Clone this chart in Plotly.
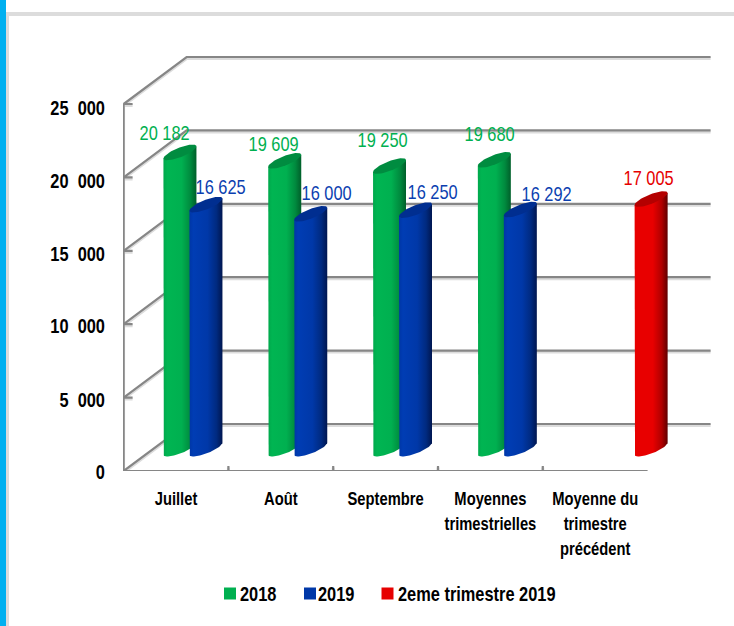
import numpy as np
import plotly.graph_objects as go

# ---- data ----
categories = ["Juillet", "Août", "Septembre", "Moyennes<br>trimestrielles", "Moyenne du<br>trimestre<br>précédent"]
values_2018 = [20182, 19609, 19250, 19680, None]
values_2019 = [16625, 16000, 16250, 16292, None]
values_t2 = [None, None, None, None, 17005]
series_names = ["2018", "2019", "2eme trimestre 2019"]
y_ticks = [0, 5000, 10000, 15000, 20000, 25000]
y_tick_labels = ["0", "5\u00a0\u00a0000", "10\u00a0\u00a0000", "15\u00a0\u00a0000", "20\u00a0\u00a0000", "25\u00a0\u00a0000"]

# ---- geometry (screen scale of the simulated 3-D view) ----
W, H = 734, 626
L, R, T, B = 123, 715, 50, 471
PX_X = 104.8           # px per category
PX_Y = 367 / 25000     # px per value unit
X0 = 176               # px of the first category
xr = [(L - X0) / PX_X, (R - X0) / PX_X]
yr = [0, (B - T) / PX_Y]
DX, DY = 63 / PX_X, 47 / PX_Y      # full depth of the box, data units
BAR_DEPTH = 0.475
SERIES_STEP = 26 / PX_X
A, BB, SH = 16.5 / PX_X, 5 / PX_Y, 6 / PX_Y

fig = go.Figure()

# walls
left, right_end = -0.5, 4.5
wx, wy = [], []
for v in y_ticks:
    wx += [left + DX / 7, left, left + DX, right_end + DX, None]
    wy += [v, v, v + DY, v + DY, None]
wx += [left, left, None, left, right_end, None]
wy += [0, 25000, None, 0, 0, None]
for k in range(1, 5):
    wx += [left + k, left + k, None]
    wy += [0, 5 / PX_Y, None]
common = dict(mode="lines", showlegend=False, hoverinfo="skip", cliponaxis=False)
fig.add_trace(go.Scatter(x=wx, y=[None if a is None else a - 1.5 / PX_Y for a in wy],
                         line=dict(color="#dcdcdc", width=3), **common))
fig.add_trace(go.Scatter(x=wx, y=wy, line=dict(color="#868686", width=2.2), **common))

styles = [
    dict(scale=[[0, "#00A84C"], [0.12, "#00B552"], [0.55, "#00B050"], [0.82, "#008A3E"], [1, "#005F2A"]],
         cap="#008C40", key="#00B050", text="#00B050"),
    dict(scale=[[0, "#0036A6"], [0.12, "#003DB4"], [0.55, "#0038A8"], [0.82, "#002A80"], [1, "#001650"]],
         cap="#002E90", key="#0038A8", text="#0B3FB0"),
    dict(scale=[[0, "#E80000"], [0.55, "#E80000"], [0.82, "#B00000"], [1, "#600000"]],
         cap="#B40000", key="#E60000", text="#E60000"),
]
series = [values_2018, values_2019, values_t2]
t_low = np.linspace(np.pi, 0, 30)
t_all = np.linspace(0, 2 * np.pi, 60)
for s, vals in enumerate(series):
    st = styles[s]
    for i, v in enumerate(vals):
        if v is None:
            continue
        cx = i + (s - 1) * SERIES_STEP + BAR_DEPTH * DX
        base = BAR_DEPTH * DY
        xs = cx + A * np.cos(t_low)
        ys = base + SH * np.cos(t_low) - BB * np.sin(t_low)
        top_y = v + base
        bx = np.concatenate([[cx - A], xs, [cx + A]])
        by = np.concatenate([[top_y - SH], ys, [top_y + SH]])
        name = f"{series_names[s]} - {categories[i].replace('<br>', ' ')}"
        fig.add_trace(go.Scatter(x=bx, y=by, mode="lines", line=dict(width=0), fill="toself",
                                 fillgradient=dict(type="horizontal", colorscale=st["scale"]),
                                 showlegend=False, name=name, hoverinfo="skip"))
        fig.add_trace(go.Scatter(x=cx + A * np.cos(t_all),
                                 y=top_y + SH * np.cos(t_all) + BB * np.sin(t_all),
                                 mode="lines", line=dict(width=0), fill="toself", fillcolor=st["cap"],
                                 showlegend=False, hoverinfo="skip"))

# legend keys
for s, nm in enumerate(series_names):
    fig.add_trace(go.Scatter(x=[None], y=[None], mode="markers", name=nm,
                             marker=dict(symbol="square", size=12, color=styles[s]["key"])))

# data labels
label_shift = {
    0: [(-15, 19), (-11, 17), (-7, 26), (-5, 26), None],
    1: [(15, 18), (16, 21), (17, 18), (26, 16), None],
    2: [None, None, None, None, (-3, 21)],
}
for s, vals in enumerate(series):
    for i, v in enumerate(vals):
        if v is None:
            continue
        xs_, ys_ = label_shift[s][i]
        fig.add_annotation(x=i + (s - 1) * SERIES_STEP + BAR_DEPTH * DX, y=v + BAR_DEPTH * DY,
                           text=f"{v:,}".replace(",", "\u00a0"), showarrow=False,
                           xanchor="center", yanchor="middle", xshift=xs_, yshift=ys_,
                           font=dict(family="Liberation Sans", size=20, color=styles[s]["text"]))

def px(x): return (x - L) / (R - L)
def py(y): return (B - y) / (B - T)

rect = dict(type="rect", xref="paper", yref="paper", layer="below", line=dict(width=0))
fig.update_layout(
    width=W, height=H, autosize=False,
    margin=dict(l=L, r=W - R, t=T, b=H - B, pad=0),
    paper_bgcolor="white", plot_bgcolor="rgba(0,0,0,0)",
    font=dict(family="Liberation Sans", color="black"),
    xaxis=dict(range=xr, tickvals=list(range(5)), ticktext=[f"<b>{c.replace('<br>', '</b><br><b>')}</b>" for c in categories],
               showgrid=False, zeroline=False, showline=False, ticks="", tickangle=0,
               tickfont=dict(size=18, color="black"), ticklabelstandoff=15),
    yaxis=dict(range=yr, tickvals=y_ticks, ticktext=[f"<b>{t}</b>" for t in y_tick_labels],
               showgrid=False, zeroline=False, showline=False, ticks="",
               tickfont=dict(size=20, color="black"), ticklabelstandoff=17),
    legend=dict(orientation="h", xref="container", yref="container", x=200 / W, y=1 - 574 / H,
                xanchor="left", yanchor="top",
                font=dict(size=20, weight="bold", color="black"),
                bgcolor="rgba(0,0,0,0)", itemclick=False, itemdoubleclick=False),
    shapes=[
        dict(rect, x0=px(0), x1=px(6), y0=py(H), y1=py(0), fillcolor="#00B0F0"),
        dict(rect, x0=px(6), x1=px(9), y0=py(H), y1=py(12), fillcolor="#DCDCDC"),
        dict(rect, x0=px(6), x1=px(W), y0=py(16), y1=py(12), fillcolor="#DCDCDC"),
    ],
)

post = """
document.documentElement.style.cssText = 'margin:0;overflow:hidden;height:626px';
document.body.style.cssText = 'margin:0;overflow:hidden;height:626px';
// wider line spacing of the multi-line category labels
document.querySelectorAll('.xtick text tspan.line').forEach(function(t){
  var d = parseFloat(t.getAttribute('dy'));
  if (d) t.setAttribute('dy', (d * 1.07) + 'em');
});
// value-axis labels sit slightly below their ticks in the reference
var yOff = [1, 2, 2, 3, 4, 4];
document.querySelectorAll('.ytick text').forEach(function(t, i){
  var old = t.getAttribute('transform') || '';
  t.setAttribute('transform', 'translate(0,' + yOff[i] + ') ' + old);
});
// condense the metric-compatible sans to the narrow look of the reference
document.querySelectorAll('.main-svg text').forEach(function(t){
  var x = t.getAttribute('x') || 0, y = t.getAttribute('y') || 0;
  var old = t.getAttribute('transform') || '';
  t.setAttribute('transform', old + ' translate(' + x + ',' + y + ') scale(0.82,1) translate(' + (-x) + ',' + (-y) + ')');
});
// legend entries: keys close to their labels, entries at their places
var starts = [0, 78, 158], keys = [30, 32, 29.5];
document.querySelectorAll('.legend .traces').forEach(function(g, i){
  var m = /translate\\(([^,]+),\\s*([^)]+)\\)/.exec(g.getAttribute('transform'));
  g.setAttribute('transform', 'translate(' + starts[i] + ',' + (m ? m[2] : 0) + ')');
  var p = g.querySelector('.legendpoints path');
  if (p) p.setAttribute('transform', 'translate(' + keys[i] + ',0)');
});
"""
fig.write_html("out.html", post_script=post, config=dict(displayModeBar=False))
